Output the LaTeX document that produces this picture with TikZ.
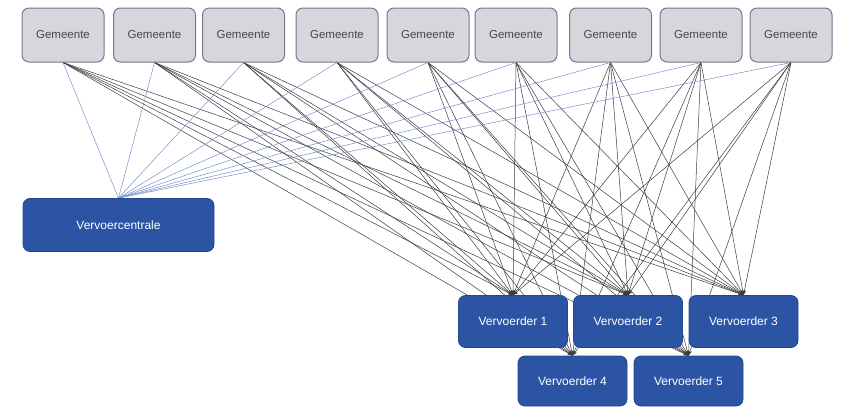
\documentclass[tikz,border=0pt]{standalone}
\usepackage{fontspec}
\setmainfont{Liberation Sans}
\usetikzlibrary{arrows.meta,backgrounds}
\definecolor{gfill}{RGB}{214,214,220}
\definecolor{gdraw}{RGB}{112,122,145}
\definecolor{gtext}{RGB}{70,70,75}
\definecolor{vfill}{RGB}{44,84,164}
\definecolor{vdraw}{RGB}{36,70,140}
\definecolor{bline}{RGB}{120,145,205}
\definecolor{kline}{RGB}{60,60,65}
\tikzset{
  gem/.style={draw=gdraw, fill=gfill, line width=1pt, rounded corners=7pt,
    minimum width=82pt, minimum height=54pt, inner sep=0pt,
    font=\fontsize{11.5}{12}\selectfont, text=gtext},
  ver/.style={draw=vdraw, fill=vfill, line width=0.8pt, rounded corners=7pt,
    minimum width=109pt, minimum height=52pt, inner sep=0pt,
    font=\fontsize{12}{13}\selectfont, text=white},
  toc/.style={draw=bline, line width=0.5pt},
  tov/.style={draw=kline, line width=0.5pt, -{Stealth[length=5pt,width=3.5pt]}},
}
\begin{document}
\begin{tikzpicture}[x=1pt,y=-1pt]
\useasboundingbox (0,0) rectangle (841,407);
\foreach \i/\x in {1/63,2/154.5,3/243.5,4/337,5/428,6/516,7/610.5,8/701,9/791}{
  \node[gem] (g\i) at (\x,35) {Gemeente};
}
\node[ver, minimum width=191pt, minimum height=53pt] (vc) at (118.5,225) {Vervoercentrale};
\node[ver] (v1) at (513,321.5) {Vervoerder 1};
\node[ver] (v2) at (628,321.5) {Vervoerder 2};
\node[ver] (v3) at (743.5,321.5) {Vervoerder 3};
\node[ver, minimum height=50pt] (v4) at (572.5,381) {Vervoerder 4};
\node[ver, minimum height=50pt] (v5) at (688.5,381) {Vervoerder 5};
\begin{pgfonlayer}{background}
\foreach \i in {1,...,9}{
  \draw[toc] (g\i.south) -- (vc.north);
  \foreach \v in {1,...,5}{
    \draw[tov] (g\i.south) -- (v\v.north);
  }
}
\end{pgfonlayer}
\end{tikzpicture}
\end{document}
